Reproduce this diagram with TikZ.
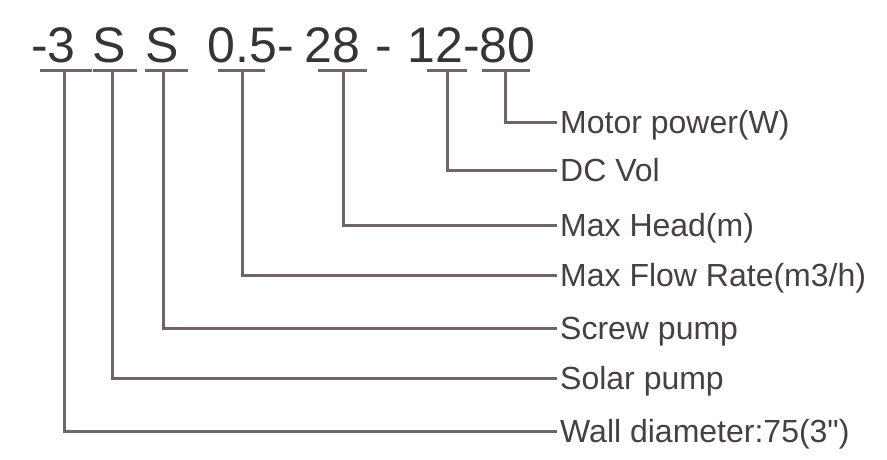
\documentclass[tikz,border=0pt]{standalone}
\usepackage{fontspec}
\setmainfont{Liberation Sans}[Ligatures=TeXOff]
\definecolor{linec}{RGB}{112,100,100}
\definecolor{codec}{RGB}{55,52,52}
\definecolor{labc}{RGB}{72,64,64}
\begin{document}
\begin{tikzpicture}[x=1pt,y=-1pt,
  code/.style={anchor=base,inner sep=0pt,text=codec,font=\fontsize{50}{50}\selectfont},
  lab/.style={anchor=west,inner xsep=5pt,inner ysep=0pt,text height=23pt,text depth=0pt,text=labc,font=\fontsize{32}{32}\selectfont},
  uline/.style={draw=linec,line width=3pt},
  conn/.style={draw=linec,line width=3pt,line cap=rect}]
\useasboundingbox (0,0) rectangle (887,459);
\fill[white] (0,0) rectangle (887,459);
% top code pieces
\node[code] (c1) at (53.5,62) {-3};
\node[code] (c2) at (109.5,62) {S};
\node[code] (c3) at (162.5,62) {S};
\node[code] (c4) at (251,62) {0.5-};
\node[code] (c5) at (332.5,62) {28};
\node[code] (c6) at (384,62) {-};
\node[code] (c7) at (471.5,62) {12-80};
% underline ends
\coordinate (a1) at (40,70);  \coordinate (b1) at (92,70);
\coordinate (a2) at (93,70);  \coordinate (b2) at (137,70);
\coordinate (a3) at (145,70); \coordinate (b3) at (188,70);
\coordinate (a4) at (218,70); \coordinate (b4) at (265,70);
\coordinate (a5) at (318,70); \coordinate (b5) at (367,70);
\coordinate (a6) at (427,70); \coordinate (b6) at (467,70);
\coordinate (a7) at (482,70); \coordinate (b7) at (530,70);
\foreach \i in {1,...,7} {\draw[uline] (a\i) -- (b\i);}
% connector starts
\coordinate (u1) at (64,70);
\coordinate (u2) at (112,70);
\coordinate (u3) at (163,70);
\coordinate (u4) at (242,70);
\coordinate (u5) at (343,70);
\coordinate (u6) at (447,70);
\coordinate (u7) at (505,70);
% labels
\node[lab] (l7) at (555,122) {Motor power(W)};
\node[lab] (l6) at (555,170) {DC Vol};
\node[lab] (l5) at (555,225) {Max Head(m)};
\node[lab] (l4) at (555,275) {Max Flow Rate(m3/h)};
\node[lab] (l3) at (555,328) {Screw pump};
\node[lab] (l2) at (555,378) {Solar pump};
\node[lab] (l1) at (555,431) {Wall diameter:75(3")};
\foreach \i in {1,...,7} {\draw[conn] (u\i) |- (l\i.west);}
\end{tikzpicture}
\end{document}
